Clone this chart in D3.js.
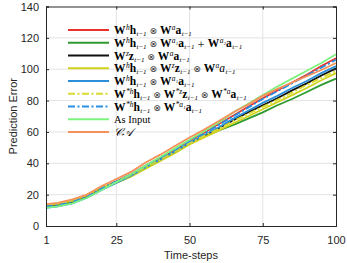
<!DOCTYPE html>
<html>
<head>
<meta charset="utf-8">
<script src="https://cdn.jsdelivr.net/npm/d3@7"></script>
<style>
  body { margin: 0; background: #fff; }
  svg { display: block; }
</style>
</head>
<body>
<div id="chart"></div>
<script>
const steps = [1, 5, 10, 15, 20, 25, 30, 35, 40, 45, 50, 55, 60, 65, 70, 75, 80, 85, 90, 95, 100];

const redVals = [13, 13.8, 15.5, 19, 24, 28.5, 33, 38.5, 43.5, 49, 54.5, 59.5, 65, 70.5, 76, 81.5, 86.5, 91.5, 96.5, 102, 107];
const darkGreenVals = [12.5, 13.3, 15, 18.5, 23.5, 28, 32, 37, 42, 47, 52.5, 57, 61, 64.5, 68.5, 72.5, 77, 81, 85.5, 90, 94];
const blackVals = [12.5, 13.2, 15, 18.5, 23.5, 28, 32.5, 37.5, 42.5, 47.5, 53, 57.5, 62.5, 67.5, 72.5, 77, 81.5, 86.5, 91, 96, 100.5];
const yellowVals = [13, 14, 16, 19.5, 24.5, 27.5, 31.5, 36.5, 41.5, 46.5, 52, 56.5, 61, 65.5, 70, 74.5, 79, 83.5, 88, 93, 97.5];
const blueVals = [11.5, 12.5, 14.5, 18, 23, 27.5, 32, 37.5, 42.5, 47.5, 53, 58, 63, 68.5, 73.5, 78.5, 83, 88, 92.5, 97.5, 102];
const yellowDashVals = [13.5, 14.3, 16.5, 20, 25, 28, 32.5, 37.5, 42.5, 47.5, 53, 57.5, 62, 67, 71.5, 76, 80.5, 85, 90, 94.5, 99];
const blueDashVals = [12.5, 13.3, 15.2, 18.8, 24, 28.5, 33, 38.5, 43.5, 48.5, 54, 59, 64.5, 70, 75.5, 81, 86, 91, 96, 101, 106];
const asInputVals = [11.5, 12.5, 14.5, 18, 23, 28, 33, 38.5, 44, 49.5, 55, 60.5, 66, 72.5, 78, 83.5, 89, 94, 99, 104, 109.5];
const caVals = [14, 14.8, 17, 20, 25.5, 30, 34.5, 40.5, 45.5, 51, 56.5, 61.5, 67, 72.5, 77.5, 83, 87.5, 91.5, 95.5, 99.5, 104];

const xTicks = [1, 25, 50, 75, 100];
const yTicks = [0, 20, 40, 60, 80, 100, 120, 140];

// legend labels as [style, text] pieces: B bold, I italic, ^ superscript, _ subscript, R plain
const labels = [
  [['B','W'],['^','h'],['B','h'],['_','t−1'],['R',' ⊗ '],['B','W'],['^','a'],['B','a'],['_','t−1']],
  [['B','W'],['^','h'],['B','h'],['_','t−1'],['R',' ⊗ '],['B','W'],['^','a₁'],['B','a'],['_','t−1'],['R',' + '],['B','W'],['^','a₂'],['B','a'],['_','t−1']],
  [['B','W'],['^','z'],['B','z'],['_','t−1'],['R',' ⊗ '],['B','W'],['^','a'],['B','a'],['_','t−1']],
  [['B','W'],['^','h'],['B','h'],['_','t−1'],['R',' ⊗ '],['B','W'],['^','z'],['B','z'],['_','t−1'],['R',' ⊗ '],['B','W'],['^','a'],['I','a'],['_','t−1']],
  [['B','W'],['^','h'],['B','h'],['_','t−1'],['R',' ⊗ '],['B','W'],['^','a₁'],['B','a'],['_','t−1']],
  [['B','W'],['^','*h'],['B','h'],['_','t−1'],['R',' ⊗ '],['B','W'],['^','*z'],['B','z'],['_','t−1'],['R',' ⊗ '],['B','W'],['^','*a'],['B','a'],['_','t−1']],
  [['B','W'],['^','*h'],['B','h'],['_','t−1'],['R',' ⊗ '],['B','W'],['^','*a₁'],['B','a'],['_','t−1']],
  [['T','As Input']],
  [['I','𝒞𝒜']]
];

const series = [
  { vals: redVals, color: '#e8322b', dash: null },
  { vals: darkGreenVals, color: '#2f9a2f', dash: null },
  { vals: blackVals, color: '#111111', dash: null },
  { vals: yellowVals, color: '#d2d21a', dash: null },
  { vals: blueVals, color: '#2a8fd8', dash: null },
  { vals: yellowDashVals, color: '#dada30', dash: '7,2.5,2,2.5' },
  { vals: blueDashVals, color: '#2a8fe0', dash: '7,2.5,2,2.5' },
  { vals: asInputVals, color: '#7ef27e', dash: null },
  { vals: caVals, color: '#f7915a', dash: null }
];

const width = 347, height = 263;
const plotLeft = 46, plotRight = 336, plotTop = 6.5, plotBottom = 226;

const svg = d3.select('#chart').append('svg')
  .attr('width', width)
  .attr('height', height)
  .style('font-family', '"Liberation Sans", Arial, sans-serif');

const x = d3.scaleLinear().domain([1, 100]).range([plotLeft, plotRight]);
const y = d3.scaleLinear().domain([0, 140]).range([plotBottom, plotTop]);

// grid
const grid = svg.append('g').attr('stroke', '#e3e3e3').attr('stroke-width', 1);
xTicks.slice(1, -1).forEach(t => {
  grid.append('line').attr('x1', x(t)).attr('x2', x(t)).attr('y1', plotTop).attr('y2', plotBottom);
});
yTicks.slice(1, -1).forEach(t => {
  grid.append('line').attr('x1', plotLeft).attr('x2', plotRight).attr('y1', y(t)).attr('y2', y(t));
});

// lines
const line = d3.line()
  .x((d, i) => x(steps[i]))
  .y(d => y(d));

const lines = svg.append('g');
series.forEach(s => {
  lines.append('path')
    .attr('d', line(s.vals))
    .attr('fill', 'none')
    .attr('stroke', s.color)
    .attr('stroke-width', 1.8)
    .attr('stroke-dasharray', s.dash);
});

// axes (box with inward ticks)
const axColor = '#262626';
svg.append('g').attr('transform', `translate(0,${plotBottom})`)
  .call(d3.axisBottom(x).tickValues(xTicks).tickSize(-3).tickPadding(10).tickFormat(d3.format('d')));
svg.append('g').attr('transform', `translate(0,${plotTop})`)
  .call(d3.axisTop(x).tickValues(xTicks).tickSize(-3).tickFormat(''));
svg.append('g').attr('transform', `translate(${plotLeft},0)`)
  .call(d3.axisLeft(y).tickValues(yTicks).tickSize(-3).tickPadding(7));
svg.append('g').attr('transform', `translate(${plotRight},0)`)
  .call(d3.axisRight(y).tickValues(yTicks).tickSize(-3).tickFormat(''));

svg.selectAll('.domain').attr('stroke', axColor);
svg.selectAll('.tick line').attr('stroke', axColor);
svg.selectAll('.tick text')
  .attr('fill', axColor)
  .style('font-size', '11px')
  .style('font-family', '"Liberation Sans", Arial, sans-serif');

svg.append('text')
  .attr('x', (plotLeft + plotRight) / 2)
  .attr('y', 259)
  .attr('text-anchor', 'middle')
  .attr('fill', axColor)
  .style('font-size', '11px')
  .text('Time-steps');

svg.append('text')
  .attr('transform', `translate(17,${(plotTop + plotBottom) / 2}) rotate(-90)`)
  .attr('text-anchor', 'middle')
  .attr('fill', axColor)
  .style('font-size', '11px')
  .text('Prediction Error');

// legend
const legend = svg.append('g');
const rowY0 = 30, rowStep = 12.75;
series.forEach((s, i) => {
  const ry = rowY0 + i * rowStep;
  legend.append('line')
    .attr('x1', 68).attr('x2', 109)
    .attr('y1', ry).attr('y2', ry)
    .attr('stroke', s.color)
    .attr('stroke-width', 1.8)
    .attr('stroke-dasharray', s.dash);

  const txt = legend.append('text')
    .attr('x', 114)
    .attr('y', ry + 4)
    .attr('fill', '#000')
    .style('font-family', '"Liberation Serif", "DejaVu Serif", serif')
    .style('font-size', '11.5px');

  let shift = 0;
  labels[i].forEach(([kind, str]) => {
    const ts = txt.append('tspan').text(str);
    let target = 0;
    if (kind === 'B') ts.attr('font-weight', 'bold');
    if (kind === 'I') ts.attr('font-style', 'italic');
    if (kind === 'T') ts.style('font-size', '10.5px');
    if (kind === 'R') ts.attr('fill', '#333').style('font-family', '"DejaVu Sans", sans-serif').style('font-size', '9px');
    if (kind === '^') { ts.style('font-size', '7.5px').attr('font-style', 'italic').attr('dx', 0.4); target = -4; }
    if (kind === '_') { ts.style('font-size', '7px').attr('font-style', 'italic').attr('dx', 0.4); target = 2; }
    ts.attr('dy', target - shift);
    shift = target;
  });
});
</script>
</body>
</html>
